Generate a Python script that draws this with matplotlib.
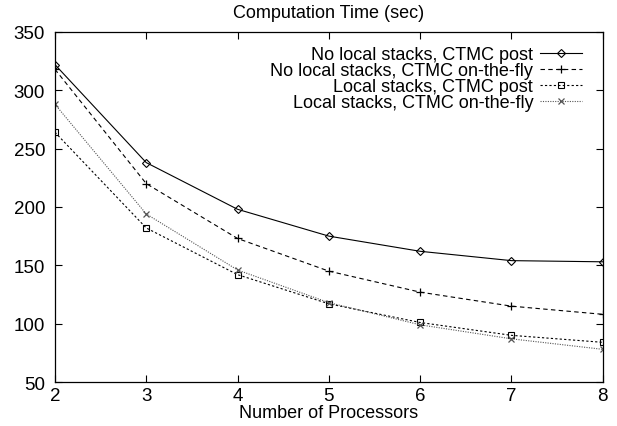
import matplotlib
matplotlib.use("Agg")
import matplotlib.pyplot as plt

plt.rcParams["font.family"] = ["Liberation Sans", "DejaVu Sans"]

processors = [2, 3, 4, 5, 6, 7, 8]
no_local_post = [322, 238, 198, 175, 162, 154, 153]
no_local_fly = [318, 220, 173, 145, 127, 115, 108]
local_post = [264, 182, 142, 117, 101, 90, 84]
local_fly = [288, 194, 146, 118, 99, 87, 78]

labels = [
    "No local stacks, CTMC post",
    "No local stacks, CTMC on-the-fly",
    "Local stacks, CTMC post",
    "Local stacks, CTMC on-the-fly",
]

fig = plt.figure(figsize=(6.17, 4.27), dpi=100)
ax = fig.add_axes([0.089, 0.103, 0.888, 0.820])

ax.plot(processors, no_local_post, color="black", lw=0.8, ls="-",
        marker="D", ms=4, mfc="none", mew=0.8, label=labels[0])
ax.plot(processors, no_local_fly, color="black", lw=0.8, ls=(0, (4, 3)),
        marker="+", ms=6, mew=0.9, label=labels[1])
ax.plot(processors, local_post, color="black", lw=0.8, ls=(0, (2, 2)),
        marker="s", ms=5, mfc="none", mew=0.8, label=labels[2])
ax.plot(processors, local_fly, color="#555555", lw=0.8, ls=(0, (1, 1.2)),
        marker="x", ms=5, mew=0.9, label=labels[3])

ax.set_xlim(2, 8)
ax.set_ylim(50, 350)
ax.set_xticks(processors)
ax.set_yticks(range(50, 351, 50))
ax.tick_params(direction="in", top=True, right=True, labelsize=13.5,
               length=5, width=0.8)
ax.tick_params(axis="y", pad=7)
for s in ax.spines.values():
    s.set_linewidth(0.9)

ax.set_title("Computation Time (sec)", fontsize=13, pad=11)
ax.set_xlabel("Number of Processors", fontsize=13, labelpad=0)

leg = ax.legend(loc="upper right", bbox_to_anchor=(0.985, 0.995),
                frameon=False, markerfirst=False, fontsize=13,
                handlelength=2.3, handletextpad=0.4, labelspacing=-0.06,
                borderaxespad=0.3)
leg._legend_box._children[-1]._children[0].align = "right"

fig.savefig("out.png", dpi=100)
